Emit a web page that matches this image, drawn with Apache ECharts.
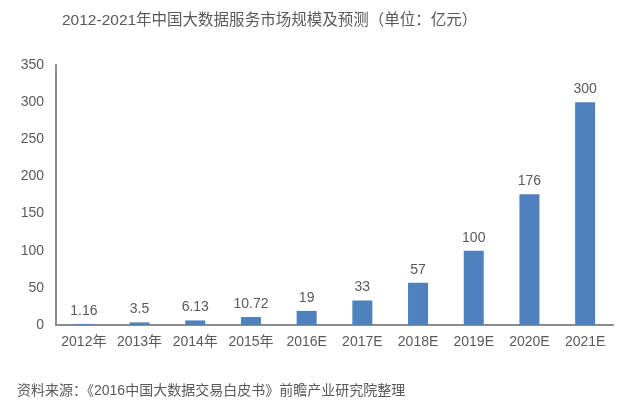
<!DOCTYPE html>
<html><head><meta charset="utf-8">
<script src="https://cdn.jsdelivr.net/npm/echarts@6/dist/echarts.min.js"></script>
<style>html,body{margin:0;padding:0;background:#fff}#c{width:622px;height:404px}</style>
</head><body><div id="c"></div>
<script>
var categories = ['2012年','2013年','2014年','2015年','2016E','2017E','2018E','2019E','2020E','2021E'];
var values = [1.16, 3.5, 6.13, 10.72, 19, 33, 57, 100, 176, 300];
var labels = ['1.16','3.5','6.13','10.72','19','33','57','100','176','300'];
var titleText = '2012-2021年中国大数据服务市场规模及预测（单位：亿元）';
var sourceText = '资料来源：《2016中国大数据交易白皮书》前瞻产业研究院整理';

var chart = echarts.init(document.getElementById('c'));
var font = '"Liberation Sans", "Noto Sans CJK SC", sans-serif';
chart.setOption({
  animation: false,
  title: [{
    text: titleText, left: 57, top: 8,
    textStyle: {fontSize: 15.5, fontWeight: 'normal', color: '#595959', fontFamily: font}
  }, {
    text: sourceText, left: 12, top: 379,
    textStyle: {fontSize: 14, fontWeight: 'normal', color: '#595959', fontFamily: font}
  }],
  grid: {left: 56, right: 9, top: 65, bottom: 79, containLabel: false},
  xAxis: {
    type: 'category', data: categories,
    axisLine: {lineStyle: {color: '#8c8c8c', width: 2}},
    axisTick: {show: false},
    axisLabel: {color: '#595959', fontSize: 14, margin: 10, fontFamily: font, interval: 0}
  },
  yAxis: {
    type: 'value', min: 0, max: 350, interval: 50,
    axisLine: {show: true, lineStyle: {color: '#8c8c8c', width: 2}},
    axisTick: {show: false},
    splitLine: {show: false},
    axisLabel: {color: '#595959', fontSize: 14, margin: 12, fontFamily: font}
  },
  series: [{
    type: 'bar', data: values, barWidth: 20,
    itemStyle: {color: '#4f81bd'},
    label: {
      show: true, position: 'top', distance: 6, color: '#595959', fontSize: 14, fontFamily: font,
      formatter: function (p) { return labels[p.dataIndex]; }
    }
  }]
});
</script></body></html>
